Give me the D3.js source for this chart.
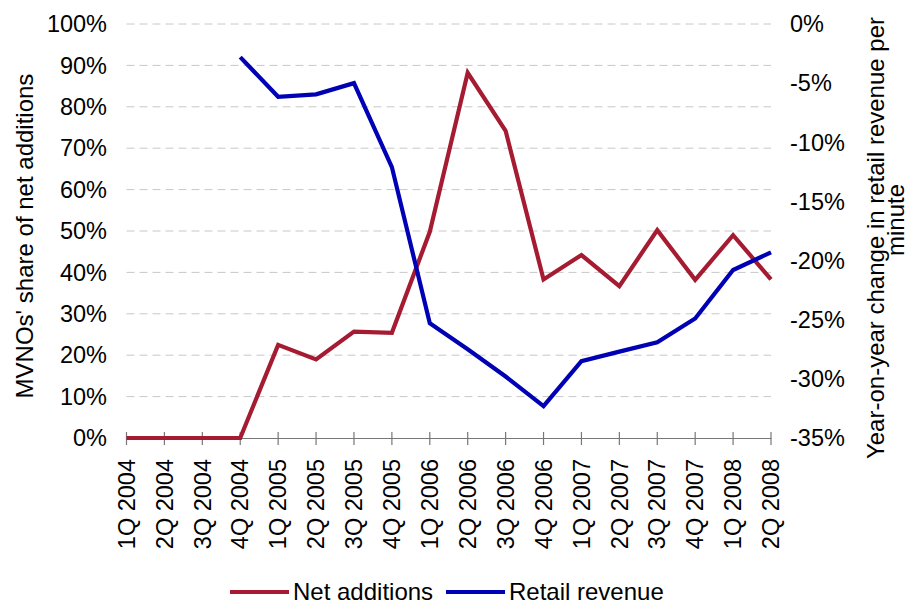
<!DOCTYPE html>
<html lang="en">
<head>
    <meta charset="UTF-8">
    <title>MVNOs' share of net additions vs retail revenue</title>
    <script src="https://d3js.org/d3.v7.min.js"></script>
    <style>
        body { margin: 0; background: #fff; }
        svg text { font-family: "Liberation Sans", Arial, sans-serif; fill: #000; }
    </style>
</head>
<body>
    <svg id="chart" width="907" height="604"></svg>
    <script>
        const quarters = ['1Q 2004', '2Q 2004', '3Q 2004', '4Q 2004', '1Q 2005', '2Q 2005', '3Q 2005', '4Q 2005',
            '1Q 2006', '2Q 2006', '3Q 2006', '4Q 2006', '1Q 2007', '2Q 2007', '3Q 2007', '4Q 2007', '1Q 2008', '2Q 2008'];
        // share of net additions (left axis)
        const netAdditions = [0, 0, 0, 0, 0.225, 0.19, 0.257, 0.254, 0.498, 0.882, 0.742, 0.383,
            0.442, 0.367, 0.502, 0.382, 0.49, 0.383];
        // year-on-year change in retail revenue per minute (right axis)
        const retailRevenue = [null, null, null, -0.028, -0.0615, -0.0595, -0.05, -0.121, -0.253, -0.275,
            -0.298, -0.323, -0.285, -0.277, -0.269, -0.249, -0.208, -0.193];
        const leftTicks = [0, 0.1, 0.2, 0.3, 0.4, 0.5, 0.6, 0.7, 0.8, 0.9, 1];
        const rightTicks = [-0.35, -0.3, -0.25, -0.2, -0.15, -0.1, -0.05, 0];

        const svg = d3.select('#chart');
        const plotLeft = 126.5, plotRight = 771, plotTop = 24, plotBottom = 438;
        const fs = 23.5;

        const x = d3.scalePoint().domain(quarters).range([plotLeft, plotRight]);
        const yL = d3.scaleLinear().domain([0, 1]).range([plotBottom, plotTop]);
        const yR = d3.scaleLinear().domain([-0.35, 0]).range([plotBottom, plotTop]);

        // gridlines
        svg.append('g').selectAll('line')
            .data(leftTicks.filter(d => d > 0))
            .enter().append('line')
            .attr('x1', plotLeft).attr('x2', plotRight)
            .attr('y1', d => yL(d)).attr('y2', d => yL(d))
            .attr('stroke', '#c8c8c8').attr('stroke-width', 1)
            .attr('stroke-dasharray', '8,5');

        // percent labels with a plain hyphen for negatives
        const pct = d => Math.round(d * 100) + '%';
        svg.append('g').selectAll('text')
            .data(leftTicks)
            .enter().append('text')
            .attr('x', 107).attr('y', d => yL(d))
            .attr('dy', '0.35em')
            .attr('text-anchor', 'end')
            .style('font-size', fs + 'px')
            .text(d => pct(d));

        svg.append('g').selectAll('text')
            .data(rightTicks)
            .enter().append('text')
            .attr('x', 790).attr('y', d => yR(d))
            .attr('dy', '0.35em')
            .attr('text-anchor', 'start')
            .style('font-size', fs + 'px')
            .text(d => pct(d));

        // x axis
        const xAxis = svg.append('g').attr('transform', `translate(0,${plotBottom})`)
            .call(d3.axisBottom(x).tickSizeInner(0).tickSizeOuter(0).tickFormat(''));
        xAxis.select('.domain').attr('stroke', '#777').attr('stroke-width', 1.2);
        xAxis.selectAll('.tick line').remove();
        svg.append('g').selectAll('line')
            .data(quarters)
            .enter().append('line')
            .attr('x1', d => x(d)).attr('x2', d => x(d))
            .attr('y1', plotBottom - 6).attr('y2', plotBottom + 7)
            .attr('stroke', '#777').attr('stroke-width', 1.2);

        svg.append('g').selectAll('text')
            .data(quarters)
            .enter().append('text')
            .attr('transform', d => `translate(${x(d)},${plotBottom + 21}) rotate(-90)`)
            .attr('dy', '0.35em')
            .attr('text-anchor', 'end')
            .style('font-size', fs + 'px')
            .text(d => d);

        // lines
        const lineL = d3.line()
            .x((d, i) => x(quarters[i]))
            .y(d => yL(d));
        const lineR = d3.line()
            .defined(d => d !== null)
            .x((d, i) => x(quarters[i]))
            .y(d => yR(d));

        svg.append('path').datum(netAdditions)
            .attr('d', lineL)
            .attr('fill', 'none').attr('stroke', '#a51c32').attr('stroke-width', 4.2)
            .attr('stroke-linejoin', 'miter');
        svg.append('path').datum(retailRevenue)
            .attr('d', lineR)
            .attr('fill', 'none').attr('stroke', '#0000b4').attr('stroke-width', 4.2)
            .attr('stroke-linejoin', 'miter');

        // axis titles
        svg.append('text')
            .attr('transform', 'translate(25,236) rotate(-90)')
            .attr('dy', '0.35em')
            .attr('text-anchor', 'middle')
            .style('font-size', '24px')
            .text("MVNOs' share of net additions");
        svg.append('text')
            .attr('transform', 'translate(876,238) rotate(-90)')
            .attr('dy', '0.35em')
            .attr('text-anchor', 'middle')
            .style('font-size', '24px')
            .text('Year-on-year change in retail revenue per');
        svg.append('text')
            .attr('transform', 'translate(896,220) rotate(-90)')
            .attr('dy', '0.35em')
            .attr('text-anchor', 'middle')
            .style('font-size', '24px')
            .text('minute');

        // legend
        const legend = [
            { name: 'Net additions', color: '#a51c32', x: 230 },
            { name: 'Retail revenue', color: '#0000b4', x: 446 }
        ];
        const lg = svg.append('g');
        legend.forEach(l => {
            lg.append('line')
                .attr('x1', l.x).attr('x2', l.x + 59)
                .attr('y1', 592).attr('y2', 592)
                .attr('stroke', l.color).attr('stroke-width', 4.2);
            lg.append('text')
                .attr('x', l.x + 63).attr('y', 592)
                .attr('dy', '0.35em')
                .style('font-size', '24px')
                .text(l.name);
        });
    </script>
</body>
</html>
